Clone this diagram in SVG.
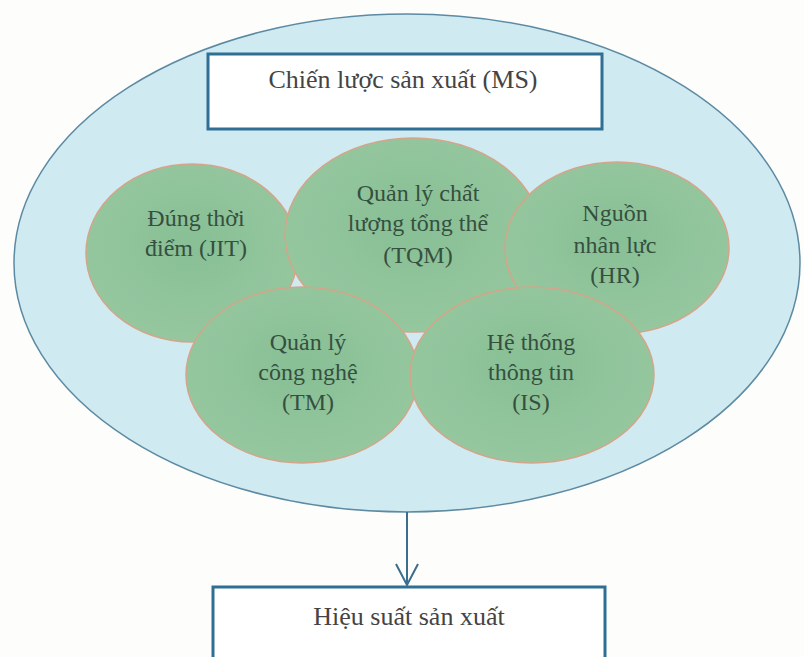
<svg xmlns="http://www.w3.org/2000/svg" width="804" height="657" viewBox="0 0 804 657">
<defs>
<radialGradient id="g" cx="50%" cy="45%" r="60%">
<stop offset="0" stop-color="#88bf95"/>
<stop offset="1" stop-color="#97c8a0"/>
</radialGradient>
<marker id="arr" viewBox="0 0 24 24" refX="22" refY="12" markerWidth="24" markerHeight="24" markerUnits="userSpaceOnUse" orient="auto">
<path d="M1,1 L22,12 L1,23" fill="none" stroke="#3b6d8e" stroke-width="2"/>
</marker>
<style>
.c{fill:url(#g);stroke:#d4a58a;stroke-width:1.5}
.ct{font-family:"Liberation Serif","DejaVu Serif",serif;font-size:24px;fill:#35503f;text-anchor:middle}
.bx{fill:#ffffff;stroke:#2f6f96;stroke-width:3}
.bt{font-family:"Liberation Serif","DejaVu Serif",serif;font-size:26px;fill:#444;text-anchor:middle}
</style>
</defs>
<rect width="804" height="657" fill="#fdfdfb"/>
<g id="ms">
<ellipse cx="407" cy="263" rx="393" ry="249" fill="#d0eaf1" stroke="#5c8aa3" stroke-width="1.5"/>
</g>
<g id="ms-box">
<rect class="bx" x="208" y="54" width="394" height="75"/>
<text class="bt" x="403" y="88">Chiến lược sản xuất (MS)</text>
</g>
<g id="jit">
<ellipse class="c" cx="192" cy="253" rx="106" ry="89"/>
<text class="ct" x="196" y="226">Đúng thời</text>
<text class="ct" x="196" y="256">điểm (JIT)</text>
</g>
<g id="tqm">
<ellipse class="c" cx="413" cy="235" rx="128" ry="97"/>
<text class="ct" x="418" y="201">Quản lý chất</text>
<text class="ct" x="418" y="231">lượng tổng thể</text>
<text class="ct" x="418" y="263">(TQM)</text>
</g>
<g id="hr">
<ellipse class="c" cx="617" cy="248" rx="112" ry="86"/>
<text class="ct" x="615" y="221">Nguồn</text>
<text class="ct" x="615" y="253">nhân lực</text>
<text class="ct" x="615" y="283">(HR)</text>
</g>
<g id="tm">
<ellipse class="c" cx="302" cy="375" rx="116" ry="88"/>
<text class="ct" x="308" y="350">Quản lý</text>
<text class="ct" x="308" y="380">công nghệ</text>
<text class="ct" x="308" y="410">(TM)</text>
</g>
<g id="is">
<ellipse class="c" cx="532" cy="375" rx="122" ry="88"/>
<text class="ct" x="531" y="350">Hệ thống</text>
<text class="ct" x="531" y="380">thông tin</text>
<text class="ct" x="531" y="410">(IS)</text>
</g>
<g id="connectors">
<line x1="407" y1="512" x2="407" y2="585" stroke="#3b6d8e" stroke-width="2" marker-end="url(#arr)"/>
</g>
<g id="hs-box">
<rect class="bx" x="213" y="587" width="392" height="90"/>
<text class="bt" x="409" y="625">Hiệu suất sản xuất</text>
</g>
</svg>
